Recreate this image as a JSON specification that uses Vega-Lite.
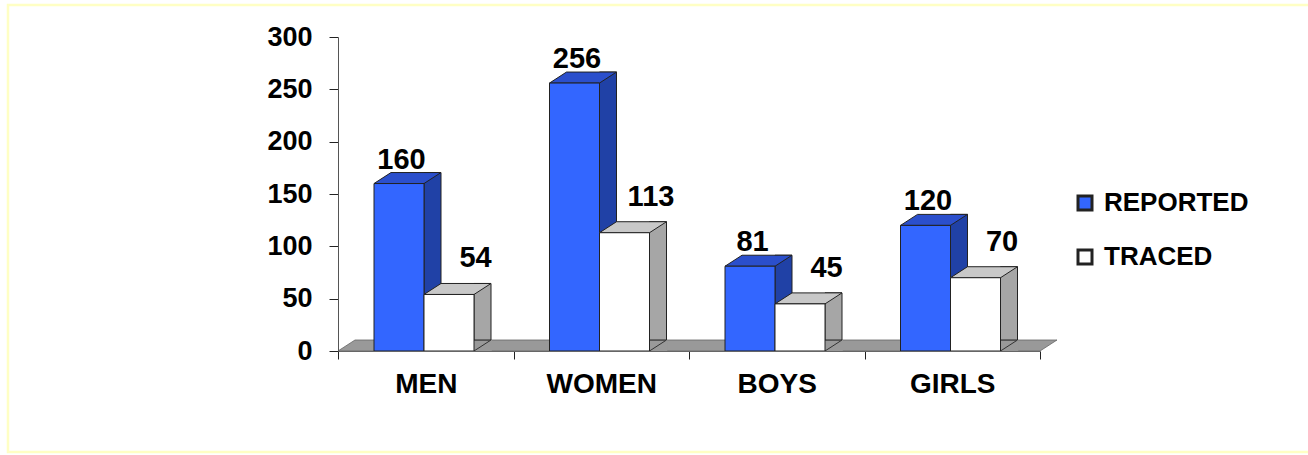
{
  "$schema": "https://vega.github.io/schema/vega-lite/v6.json",
  "width": 702,
  "height": 314,
  "autosize": {"type": "none"},
  "padding": {"left": 338, "top": 37, "right": 268, "bottom": 104},
  "background": "#ffffff",
  "config": {"view": {"stroke": null}, "font": "Liberation Sans"},
  "data": {
    "values": [
      {"category": "MEN", "series": "REPORTED", "value": 160},
      {"category": "MEN", "series": "TRACED", "value": 54},
      {"category": "WOMEN", "series": "REPORTED", "value": 256},
      {"category": "WOMEN", "series": "TRACED", "value": 113},
      {"category": "BOYS", "series": "REPORTED", "value": 81},
      {"category": "BOYS", "series": "TRACED", "value": 45},
      {"category": "GIRLS", "series": "REPORTED", "value": 120},
      {"category": "GIRLS", "series": "TRACED", "value": 70}
    ]
  },
  "encoding": {
    "x": {
      "field": "category", "type": "nominal",
      "sort": ["MEN", "WOMEN", "BOYS", "GIRLS"],
      "scale": {"paddingInner": 0, "paddingOuter": 0},
      "axis": {"title": null, "labelAngle": 0, "tickBand": "extent", "labelFont": "Liberation Sans", "labelFontSize": 28, "labelFontWeight": "bold", "labelColor": "#000000", "tickSize": 8, "tickColor": "#222222", "domainColor": "#666666", "labelPadding": 11, "zindex": 1}
    },
    "y": {
      "field": "value", "type": "quantitative",
      "scale": {"domain": [0, 300], "nice": false, "zero": true},
      "axis": {"title": null, "values": [0, 50, 100, 150, 200, 250, 300], "grid": false, "labelFont": "Liberation Sans", "labelFontSize": 27, "labelFontWeight": "bold", "labelColor": "#000000", "tickSize": 9, "tickColor": "#222222", "domainColor": "#555555", "labelPadding": 17, "zindex": 1}
    }
  },
  "layer": [
    {
      "transform": [{"filter": "datum.category == 'MEN' && datum.series == 'REPORTED'"}],
      "mark": {"type": "point", "shape": "M-4.1775,-3.46L8.94,-3.46L8.94,1.01L-4.1775,1.01Z", "size": 40000, "filled": false, "stroke": "#ffffc4", "strokeWidth": 2.5, "opacity": 1},
      "encoding": {"y": {"datum": 0}}
    },
    {
      "transform": [{"filter": "datum.category == 'MEN' && datum.series == 'REPORTED'"}],
      "mark": {"type": "point", "shape": "M-0.8775,0L6.1425,0L6.3125,-0.11L-0.7075,-0.11Z", "size": 40000, "filled": true, "fill": "#999999", "stroke": "#666666", "strokeWidth": 0.8, "opacity": 1},
      "encoding": {"y": {"datum": 0}}
    },
    {
      "transform": [{"filter": "datum.series == 'REPORTED'"}],
      "mark": {"type": "bar", "width": 17, "xOffset": 6.75, "yOffset": -11, "fill": "#2041a6", "stroke": "#222222", "strokeWidth": 1}
    },
    {
      "transform": [{"filter": "datum.series == 'REPORTED'"}],
      "mark": {"type": "point", "shape": "M-1.035,0L-0.035,0L0.305,-0.22L-0.695,-0.22Z", "size": 10000, "filled": true, "fill": "#2b4fcc", "stroke": "#222222", "strokeWidth": 1, "opacity": 1}
    },
    {
      "transform": [{"filter": "datum.series == 'REPORTED'"}],
      "mark": {"type": "bar", "width": 50, "xOffset": -26.75, "stroke": "#222222", "strokeWidth": 1, "opacity": 1},
      "encoding": {
        "color": {
          "datum": "REPORTED", "type": "nominal",
          "scale": {"domain": ["REPORTED", "TRACED"], "range": ["#3366ff", "#ffffff"]},
          "legend": {"orient": "none", "legendX": 734, "legendY": 153, "title": null, "symbolType": "square", "symbolSize": 196, "symbolStrokeColor": "#000000", "symbolStrokeWidth": 3, "symbolOpacity": 1, "labelFont": "Liberation Sans", "labelFontSize": 26, "labelFontWeight": "bold", "labelColor": "#000000", "rowPadding": 28, "labelOffset": 6, "padding": 0}
        }
      }
    },
    {
      "transform": [{"filter": "datum.series == 'TRACED'"}],
      "mark": {"type": "bar", "width": 17, "xOffset": 56.75, "yOffset": -11, "fill": "#a6a6a6", "stroke": "#222222", "strokeWidth": 1}
    },
    {
      "transform": [{"filter": "datum.series == 'TRACED'"}],
      "mark": {"type": "point", "shape": "M0.965,0L1.305,-0.22L1.32,-0.22L1.32,0.01L0.965,0.01Z", "size": 10000, "filled": true, "fill": "#999999", "strokeWidth": 0, "opacity": 1},
      "encoding": {"y": {"datum": 0}}
    },
    {
      "transform": [{"filter": "datum.series == 'TRACED'"}],
      "mark": {"type": "point", "shape": "M0.965,0L1.305,-0.22", "size": 10000, "filled": false, "stroke": "#333333", "strokeWidth": 1, "opacity": 1},
      "encoding": {"y": {"datum": 0}}
    },
    {
      "transform": [{"filter": "datum.series == 'TRACED'"}],
      "mark": {"type": "point", "shape": "M-0.035,0L0.965,0L1.305,-0.22L0.305,-0.22Z", "size": 10000, "filled": true, "fill": "#c8c8c8", "stroke": "#222222", "strokeWidth": 1, "opacity": 1}
    },
    {
      "transform": [{"filter": "datum.series == 'TRACED'"}],
      "mark": {"type": "bar", "width": 50, "xOffset": 23.25, "stroke": "#222222", "strokeWidth": 1, "opacity": 1},
      "encoding": {"color": {"datum": "TRACED", "type": "nominal"}}
    },
    {
      "transform": [{"filter": "datum.series == 'REPORTED'"}],
      "mark": {"type": "text", "dx": -24.25, "dy": -15, "baseline": "alphabetic", "align": "center", "font": "Liberation Sans", "fontSize": 29, "fontWeight": "bold", "color": "#000000"},
      "encoding": {"text": {"field": "value", "type": "quantitative"}}
    },
    {
      "transform": [{"filter": "datum.series == 'TRACED'"}],
      "mark": {"type": "text", "dx": 49.75, "dy": -27, "baseline": "alphabetic", "align": "center", "font": "Liberation Sans", "fontSize": 29, "fontWeight": "bold", "color": "#000000"},
      "encoding": {"text": {"field": "value", "type": "quantitative"}}
    }
  ]
}
